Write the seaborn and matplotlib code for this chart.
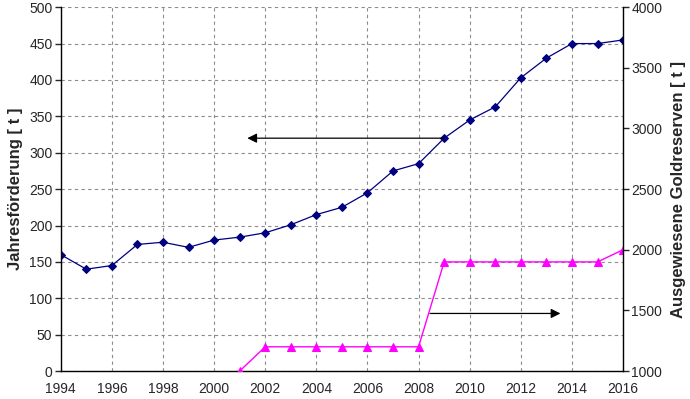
import pandas as pd
import matplotlib
matplotlib.use("Agg")
import matplotlib.pyplot as plt
import seaborn as sns

years = list(range(1994, 2017))
production = [160, 140, 145, 174, 177, 170, 180, 184, 190, 201, 215, 225,
              245, 275, 285, 320, 345, 363, 403, 430, 450, 450, 455]
reserve_years = list(range(2001, 2017))
reserves = [1000, 1200, 1200, 1200, 1200, 1200, 1200, 1200,
            1900, 1900, 1900, 1900, 1900, 1900, 1900, 2000]

sns.set_style("white")
plt.rcParams["font.family"] = ["Liberation Sans", "DejaVu Sans"]

df_prod = pd.DataFrame({"Jahr": years, "Förderung": production})
df_res = pd.DataFrame({"Jahr": reserve_years, "Reserven": reserves})

fig, ax = plt.subplots(figsize=(6.9, 3.99), dpi=100)
fig.subplots_adjust(left=0.088, right=0.903, top=0.982, bottom=0.07)
ax2 = ax.twinx()

sns.lineplot(data=df_prod, x="Jahr", y="Förderung", ax=ax, color="#000080",
             marker="D", markersize=4.5, linewidth=0.9, markeredgecolor="#000080")
sns.lineplot(data=df_res, x="Jahr", y="Reserven", ax=ax2, color="#FF00FF",
             marker="^", markersize=6, linewidth=1.0, markeredgecolor="#FF00FF")

ax.set_xlim(1994, 2016)
ax.set_ylim(0, 500)
ax2.set_ylim(1000, 4000)
ax.set_xticks(range(1994, 2017, 2))
ax.set_yticks(range(0, 501, 50))
ax2.set_yticks(range(1000, 4001, 500))

ax.grid(True, color="#8c8c8c", linestyle=(0, (3, 3)), linewidth=0.8)
ax.set_axisbelow(True)

for a in (ax, ax2):
    a.spines["top"].set_visible(False)
    for s in ("left", "right", "bottom"):
        a.spines[s].set_color("black")
        a.spines[s].set_linewidth(1.0)
ax.spines["right"].set_visible(False)
ax2.spines["left"].set_visible(False)
ax2.spines["bottom"].set_visible(False)

ax.tick_params(axis="y", direction="out", length=4, width=1, labelsize=10, pad=2)
ax.tick_params(axis="x", direction="out", length=3, width=1, labelsize=10, pad=5)
ax2.tick_params(axis="y", direction="out", length=4, width=1, labelsize=10, pad=2)

ax.set_xlabel("")
ax.set_ylabel("Jahresförderung [ t ]", fontsize=12, fontweight="bold", labelpad=4)
ax2.set_ylabel("Ausgewiesene Goldreserven [ t ]", fontsize=12, fontweight="bold",
               labelpad=6, rotation=90)

ax.annotate("", xy=(2001.3, 320), xytext=(2009, 320),
            arrowprops=dict(arrowstyle="-|>", color="black", lw=0.9,
                            mutation_scale=14, shrinkA=0, shrinkB=0))
ax2.annotate("", xy=(2013.55, 1475), xytext=(2008.45, 1475),
             arrowprops=dict(arrowstyle="-|>", color="black", lw=0.9,
                             mutation_scale=14, shrinkA=0, shrinkB=0))

fig.savefig("out.png", dpi=100)
